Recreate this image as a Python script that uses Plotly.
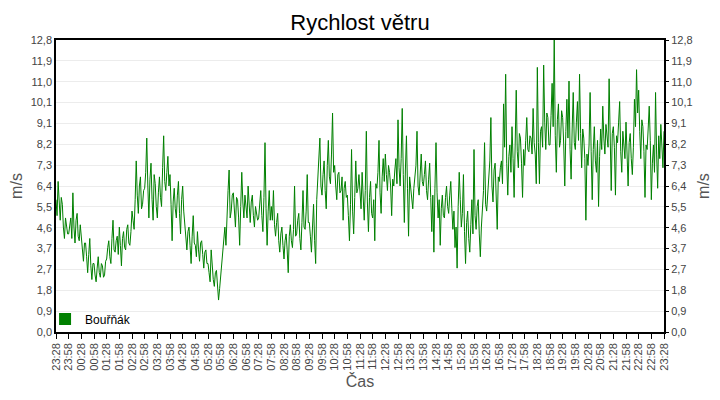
import pandas as pd
import plotly.graph_objects as go

# wind speed [m/s], one reading every 2.5 minutes from 23:28 to 23:28 next day
rychlost = [
    5.8, 5.1, 6.6, 5.3, 4.9, 5.9, 5.6, 4.6, 4.1, 5.0, 4.6, 4.3,
    4.3, 4.8, 5.0, 4.1, 6.1, 4.6, 3.9, 4.9, 5.2, 4.2, 4.0, 4.7,
    4.2, 3.6, 3.1, 3.9, 3.9, 3.3, 2.6, 3.4, 4.1, 2.9, 2.3, 3.0,
    3.0, 2.5, 2.2, 2.8, 3.3, 2.6, 2.4, 3.0, 2.9, 2.4, 2.5, 3.1,
    3.2, 3.7, 4.0, 3.3, 3.0, 4.1, 4.9, 3.6, 3.5, 4.0, 4.2, 3.4,
    4.6, 3.8, 2.9, 4.1, 4.4, 3.7, 3.6, 4.5, 4.7, 3.9, 3.8, 4.4,
    5.3, 4.9, 4.5, 5.8, 7.5, 6.0, 5.2, 6.4, 6.8, 5.4, 5.6, 6.2,
    6.3, 7.0, 8.5, 6.4, 5.0, 6.7, 7.4, 5.8, 4.9, 6.9, 6.5, 5.5,
    5.0, 6.1, 6.8, 5.9, 5.5, 7.2, 8.6, 6.6, 6.2, 7.0, 7.7, 6.4,
    6.9, 5.6, 4.0, 5.7, 6.3, 5.4, 5.0, 6.0, 6.6, 5.2, 4.3, 5.8,
    6.4, 5.3, 4.8, 4.1, 3.6, 4.4, 4.6, 3.8, 3.0, 4.2, 5.1, 3.9,
    3.8, 3.3, 4.4, 3.6, 3.1, 3.9, 4.0, 3.4, 2.8, 3.5, 3.6, 3.0,
    3.0, 2.6, 2.2, 3.6, 2.8, 2.3, 2.0, 2.6, 2.7, 2.1, 1.4, 1.9,
    2.5, 2.9, 3.4, 3.9, 4.6, 3.8, 5.5, 6.2, 7.1, 5.0, 5.3, 6.0,
    6.1, 5.2, 4.6, 5.9, 5.8, 5.0, 3.8, 5.5, 7.0, 5.7, 5.0, 6.0,
    5.6, 5.0, 6.4, 5.3, 4.8, 5.7, 6.0, 5.1, 4.6, 5.5, 5.2, 4.9,
    5.0, 5.6, 6.2, 5.1, 4.4, 5.9, 8.3, 5.4, 3.8, 5.3, 6.2, 4.9,
    5.5, 4.9, 6.2, 4.7, 4.2, 4.8, 5.2, 4.0, 3.5, 4.3, 4.6, 3.8,
    3.2, 4.0, 4.3, 3.6, 2.6, 4.2, 4.7, 4.0, 3.7, 4.5, 6.4, 4.2,
    4.3, 4.9, 5.2, 4.1, 3.6, 4.8, 6.2, 4.6, 4.5, 5.3, 6.9, 4.8,
    4.8, 4.2, 3.5, 4.6, 5.6, 4.0, 3.0, 5.8, 6.7, 7.6, 8.5, 6.4,
    6.0, 6.9, 7.5, 6.2, 5.4, 7.3, 8.4, 6.8, 6.5, 7.8, 9.6, 7.0,
    7.3, 6.4, 5.8, 6.9, 7.0, 6.1, 6.2, 6.8, 4.9, 6.3, 6.6, 5.9,
    6.0, 5.1, 4.0, 5.6, 8.0, 5.3, 4.3, 5.9, 7.5, 6.1, 6.3, 6.9,
    6.1, 5.4, 7.0, 6.0, 4.9, 6.2, 8.8, 5.7, 4.4, 5.9, 6.6, 5.2,
    5.0, 5.8, 4.0, 6.5, 6.3, 7.0, 8.4, 6.1, 5.2, 6.8, 7.6, 6.6,
    7.8, 6.9, 6.2, 7.3, 7.0, 6.4, 5.1, 6.7, 6.4, 7.1, 7.6, 6.5,
    9.3, 7.2, 6.4, 7.6, 9.8, 6.9, 4.8, 7.1, 8.6, 6.3, 4.2, 6.8,
    6.2, 5.8, 5.4, 6.3, 6.8, 7.3, 8.8, 6.4, 6.0, 7.0, 7.8, 6.6,
    6.4, 6.9, 7.5, 6.2, 5.8, 6.7, 7.4, 5.9, 4.4, 6.0, 3.5, 6.3,
    8.3, 6.1, 5.0, 5.8, 3.8, 5.4, 6.0, 5.1, 5.0, 5.9, 6.4, 5.5,
    5.2, 6.0, 6.6, 5.4, 4.5, 5.3, 3.7, 4.6, 2.8, 5.5, 7.0, 5.8,
    4.6, 5.2, 6.9, 4.4, 3.0, 4.8, 5.3, 4.1, 3.5, 4.7, 5.8, 4.3,
    8.0, 5.1, 4.5, 5.5, 5.8, 4.3, 3.3, 4.6, 5.4, 6.2, 8.3, 5.6,
    5.3, 6.2, 6.6, 7.5, 9.4, 6.4, 5.7, 7.1, 7.4, 6.0, 4.5, 6.8,
    6.6, 7.2, 7.5, 6.5, 10.0, 8.1, 11.3, 7.4, 6.0, 7.7, 8.2, 7.0,
    9.0, 7.6, 5.9, 8.2, 10.6, 7.9, 7.2, 8.7, 8.5, 7.4, 5.9, 8.0,
    7.3, 8.4, 9.4, 8.0, 7.9, 8.6, 8.5, 7.8, 9.8, 8.3, 7.8, 6.5,
    11.6, 8.3, 6.5, 8.8, 9.0, 8.1, 11.7, 9.2, 8.0, 9.6, 9.4, 8.2,
    8.2, 9.5, 10.9, 9.0, 12.8, 8.6, 7.0, 9.3, 10.0, 8.1, 8.4, 9.7,
    9.4, 8.2, 6.4, 8.8, 10.2, 8.5, 11.0, 8.0, 6.7, 8.9, 10.5, 8.3,
    8.0, 9.2, 10.1, 8.4, 11.3, 8.7, 7.2, 8.9, 8.5, 7.6, 4.9, 7.8,
    7.3, 8.2, 10.5, 7.9, 5.8, 8.0, 9.0, 7.5, 7.0, 8.4, 5.5, 7.7,
    8.9, 8.0, 9.9, 8.5, 7.8, 9.1, 8.6, 8.1, 11.1, 8.4, 6.2, 8.7,
    9.0, 8.1, 6.0, 8.6, 8.3, 9.2, 10.1, 7.9, 7.0, 8.8, 8.2, 7.6,
    9.2, 8.0, 6.4, 8.3, 8.7, 7.6, 6.9, 8.1, 10.2, 9.0, 11.5, 9.6,
    10.6, 8.8, 7.6, 9.3, 9.0, 7.9, 5.9, 8.2, 8.0, 8.9, 9.9, 8.4,
    5.8, 7.4, 8.2, 7.0, 10.5, 7.8, 6.3, 8.6, 7.6, 9.1, 8.0, 7.2,
    8.8,
]
start = "2023-05-01 23:28"
end = "2023-05-02 23:28"
cas = pd.date_range(start, periods=len(rychlost), freq="150s")

y_ticks = [0.0, 0.9, 1.8, 2.7, 3.7, 4.6, 5.5, 6.4, 7.3, 8.2, 9.1, 10.1, 11.0, 11.9, 12.8]
y_text = [f"{v:.1f}".replace(".", ",") for v in y_ticks]
y_vals = [12.8 * i / 14 for i in range(15)]

green = "#008000"
fig = go.Figure()
fig.add_trace(go.Scatter(x=cas, y=rychlost, mode="lines", line=dict(color=green, width=1),
                         name="Bouřňák", showlegend=False))
# copy on the right axis so it gets drawn
fig.add_trace(go.Scatter(x=cas, y=rychlost, mode="lines", yaxis="y2", line=dict(color="rgba(0,0,0,0)", width=0),
                         showlegend=False, hoverinfo="skip"))
# legend entry with square marker
fig.add_trace(go.Scatter(x=[None], y=[None], mode="markers", name="Bouřňák",
                         marker=dict(symbol="square", size=12, color=green)))

axis_font = dict(family="Liberation Sans, Arial", size=11, color="#444")
# page has an 8px body margin, so the figure is 16px smaller than the window
fig.update_layout(
    width=704, height=384,
    margin=dict(l=48, r=48, t=32, b=60, autoexpand=False),
    paper_bgcolor="white", plot_bgcolor="white",
    font=dict(family="Liberation Sans, Arial", size=12, color="#444"),
    title=dict(text="Rychlost větru", x=0.5, xanchor="center", y=0.963, yanchor="middle",
               font=dict(size=22, color="black")),
    showlegend=True,
    legend=dict(x=-0.018, y=-0.005, xanchor="left", yanchor="bottom", bgcolor="rgba(255,255,255,0)",
                font=dict(size=12, color="black"), itemwidth=30),
    xaxis=dict(type="date", range=[start, end], tick0=start, dtick=30 * 60 * 1000, automargin=False,
               tickformat="%H:%M", tickangle=-90, tickfont=axis_font, ticks="outside", ticklen=5,
               tickcolor="black", showgrid=False, showline=True, linecolor="black", linewidth=1.5,
               mirror=True, zeroline=False,
               title=dict(text="Čas", font=dict(size=16, color="#555"), standoff=6)),
    yaxis=dict(range=[0, 12.8], tickvals=y_vals, ticktext=y_text, tickfont=axis_font, automargin=False,
               showgrid=True, gridcolor="#ececec", gridwidth=1, zeroline=False,
               showline=True, linecolor="black", linewidth=1.5, mirror=True, ticks="",
               title=dict(text="m/s", font=dict(size=16, color="#555"), standoff=10)),
    yaxis2=dict(range=[0, 12.8], tickvals=y_vals, ticktext=y_text, tickfont=axis_font, automargin=False,
                overlaying="y", side="right", showgrid=False, zeroline=False,
                ticks="outside", ticklen=4, tickcolor="black",
                title=dict(text="m/s", font=dict(size=16, color="#555"), standoff=13)),
)

fig.write_html("out.html")
